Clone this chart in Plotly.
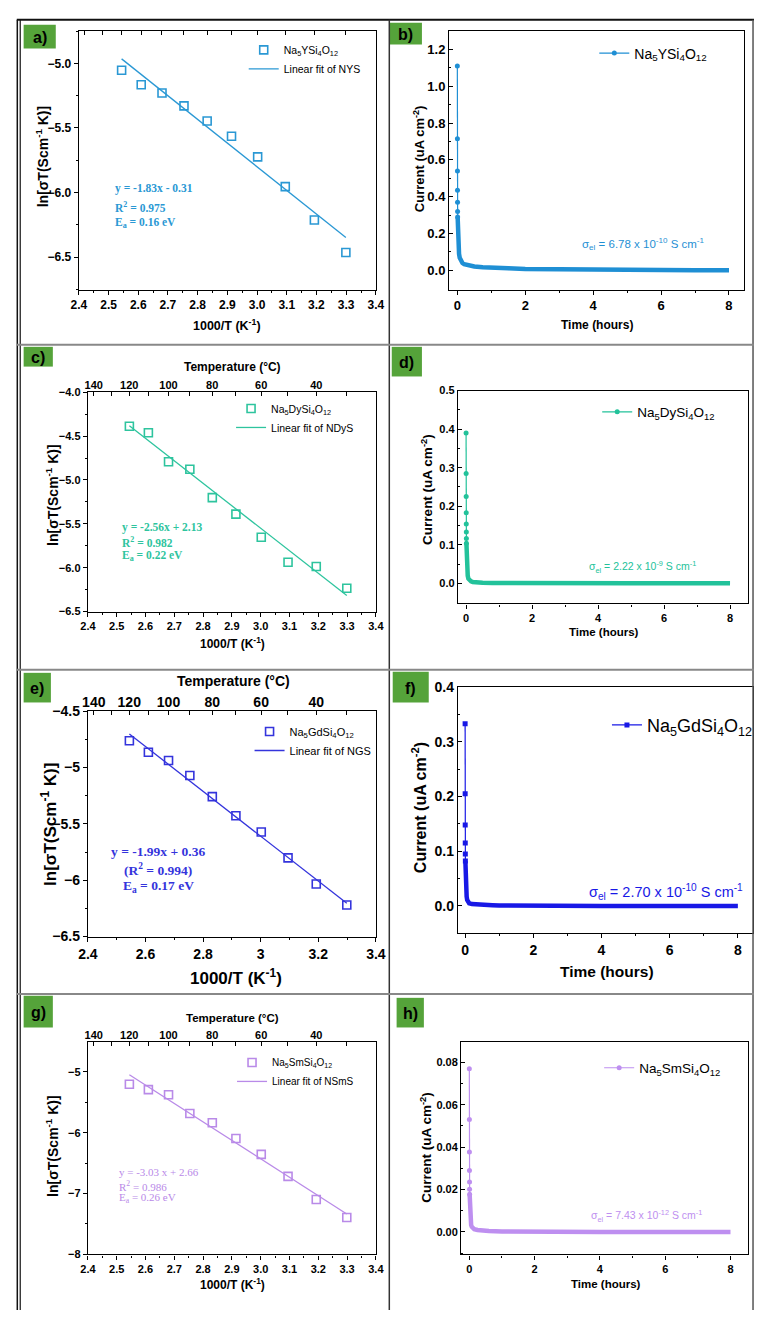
import plotly.graph_objects as go

W, H = 764, 1318
SANS = "Liberation Sans"
SERIF = "Liberation Serif"

# ---------------- data ----------------
inv_T = [2.544, 2.610, 2.680, 2.754, 2.832, 2.914, 3.002, 3.095, 3.193, 3.299]  # 1000/T (K^-1)
temp_C_major = [140, 120, 100, 80, 60, 40]
temp_C_minor = [130, 110, 90, 70, 50, 30]

ln_sT_NYS = [-5.054, -5.166, -5.230, -5.329, -5.446, -5.564, -5.724, -5.954, -6.212, -6.464]
ln_sT_NDyS = [-4.387, -4.462, -4.792, -4.878, -5.201, -5.389, -5.652, -5.937, -5.986, -6.234]
ln_sT_NGS = [-4.763, -4.865, -4.938, -5.072, -5.259, -5.428, -5.572, -5.802, -6.033, -6.220]
ln_sT_NSmS = [-5.205, -5.292, -5.378, -5.686, -5.838, -6.097, -6.357, -6.719, -7.097, -7.395]

fit_slope = [-1.83, -2.56, -1.99, -3.03]
fit_icpt = [-0.31, 2.13, 0.36, 2.66]

sample_names = ["Na<sub>5</sub>YSi<sub>4</sub>O<sub>12</sub>",
                "Na<sub>5</sub>DySi<sub>4</sub>O<sub>12</sub>",
                "Na<sub>5</sub>GdSi<sub>4</sub>O<sub>12</sub>",
                "Na<sub>5</sub>SmSi<sub>4</sub>O<sub>12</sub>"]
fit_names = ["Linear fit of NYS", "Linear fit of NDyS", "Linear fit of NGS", "Linear fit of NSmS"]

# chronoamperometry (time in hours, current in uA cm^-2)
NYS_spike_t = [0.0, 0.0015, 0.003, 0.0045, 0.006, 0.0075, 0.009]
NYS_spike_i = [1.11, 0.715, 0.54, 0.435, 0.37, 0.32, 0.29]
NYS_tail_t = [0.009, 0.012, 0.016, 0.02, 0.03, 0.04, 0.05, 0.07, 0.1, 0.15, 0.2, 0.3, 0.5, 0.75,
              1.0, 1.5, 2.0, 3.0, 4.0, 5.0, 6.0, 7.0, 8.0]
NYS_tail_i = [0.29, 0.25, 0.21, 0.18, 0.14, 0.11, 0.09, 0.068, 0.052, 0.04, 0.034, 0.028, 0.021, 0.017,
              0.014, 0.011, 0.008, 0.005, 0.003, 0.002, 0.0015, 0.001, 0.0005]

NDyS_spike_t = [0.0, 0.0015, 0.003, 0.0045, 0.006, 0.0075, 0.009, 0.0105]
NDyS_spike_i = [0.39, 0.285, 0.225, 0.183, 0.154, 0.133, 0.116, 0.104]
NDyS_tail_t = [0.0105, 0.014, 0.018, 0.025, 0.035, 0.05, 0.07, 0.1, 0.15, 0.2, 0.3, 0.5, 0.8, 1.2,
               2.0, 3.0, 4.0, 5.0, 6.0, 7.0, 8.0]
NDyS_tail_i = [0.104, 0.088, 0.07, 0.05, 0.032, 0.02, 0.012, 0.008, 0.005, 0.0035, 0.0025, 0.0015, 0.001,
               0.0007, 0.0004, 0.0003, 0.0002, 0.0001, 0.0001, 0.0, 0.0]

NGS_spike_t = [0.0, 0.0015, 0.003, 0.0045, 0.006, 0.0075]
NGS_spike_i = [0.333, 0.205, 0.148, 0.115, 0.095, 0.082]
NGS_tail_t = [0.0075, 0.01, 0.015, 0.02, 0.03, 0.045, 0.06, 0.08, 0.12, 0.2, 0.35, 0.5, 0.8, 1.0,
              1.5, 2.0, 3.0, 4.0, 5.0, 6.0, 7.0, 8.0]
NGS_tail_i = [0.082, 0.07, 0.055, 0.042, 0.028, 0.017, 0.011, 0.008, 0.005, 0.0035, 0.0025, 0.002, 0.0015,
              0.001, 0.0006, 0.0004, 0.0002, 0.0001, 0.0001, 0.0, 0.0, 0.0]

NSmS_spike_t = [0.0, 0.0015, 0.003, 0.0045, 0.006, 0.0075, 0.009]
NSmS_spike_i = [0.077, 0.053, 0.0377, 0.029, 0.0236, 0.0201, 0.0178]
NSmS_tail_t = [0.009, 0.012, 0.016, 0.02, 0.03, 0.04, 0.055, 0.075, 0.1, 0.15, 0.25, 0.4, 0.6, 1.0,
               1.5, 2.0, 3.0, 4.0, 5.0, 6.0, 7.0, 8.0]
NSmS_tail_i = [0.0178, 0.015, 0.012, 0.0095, 0.0065, 0.0045, 0.0032, 0.0024, 0.0018, 0.0013, 0.0009,
               0.0006, 0.0004, 0.0002, 0.0001, 0.0001, 0.0, 0.0, 0.0, 0.0, 0.0, 0.0]

sigma_el_text = ["σ<sub>el</sub> = 6.78 x 10<sup>-10</sup> S cm<sup>-1</sup>",
                 "σ<sub>el</sub> = 2.22 x 10<sup>-9</sup> S cm<sup>-1</sup>",
                 "σ<sub>el</sub> = 2.70 x 10<sup>-10</sup> S cm<sup>-1</sup>",
                 "σ<sub>el</sub> = 7.43 x 10<sup>-12</sup> S cm<sup>-1</sup>"]

arr_colors = ["#2A98D4", "#2EC49E", "#3434DC", "#B98AE8"]
ca_colors = ["#1F8FD4", "#22C29A", "#1818E6", "#BE8FF0"]

# ---------------- geometry (page pixels) ----------------
geom = {
    1: (70.7, 375.7, 23.3, 285.0),
    2: (451.0, 753.3, 23.3, 285.0),
    3: (80.0, 375.7, 389.0, 611.0),
    4: (460.0, 757.7, 387.3, 602.7),
    5: (80.0, 375.7, 711.7, 940.0),
    6: (460.0, 762.5, 687.3, 936.7),
    7: (80.0, 375.7, 1046.7, 1261.7),
    8: (463.3, 758.3, 1046.7, 1261.7),
}


def px(x):
    return x / W


def py(y):
    return 1 - y / H


def dom(i):
    l, r, t, b = geom[i]
    return [px(l), px(r)], [py(b), py(t)]


def axref(i):
    return ("x", "y") if i == 1 else (f"x{i}", f"y{i}")


def legref(i):
    return "legend" if i == 1 else f"legend{i}"


def axis_common(fs, ticks="outside"):
    return dict(showline=True, linecolor="black", linewidth=1.3, mirror=True,
                ticks=ticks, ticklen=4, tickwidth=1.2, tickcolor="black",
                showgrid=False, zeroline=False,
                tickfont=dict(family=SANS, size=fs, color="black", weight="bold"))


fig = go.Figure()
layout = dict(width=W, height=H, margin=dict(l=0, r=0, t=0, b=0),
              paper_bgcolor="white", plot_bgcolor="white", showlegend=True)

# ---------------- Arrhenius panels ----------------
arr_panels = [1, 3, 5, 7]
arr_data = [ln_sT_NYS, ln_sT_NDyS, ln_sT_NGS, ln_sT_NSmS]
arr_tickfs = [12, 11, 14, 11]
arr_yr = [[-6.75, -4.75], [-6.5, -4.0], [-6.5, -4.5], [-8.0, -4.51]]
arr_ydt = [0.5, 0.5, 0.5, 1.0]
arr_yt0 = [-5.0, -4.0, -4.5, -5.0]
arr_yfmt = [".1f", ".1f", "", ".0f"]
arr_xdt = [0.1, 0.1, 0.2, 0.1]
arr_xfmt = [".1f", ".1f", "", ".1f"]
top_axis_ids = [9, 10, 11, 12]
top_fs = [11, 11, 14, 11]

for k, i in enumerate(arr_panels):
    xr, yr = axref(i)
    c = arr_colors[k]
    fig.add_trace(go.Scatter(
        x=inv_T, y=arr_data[k], mode="markers", name=sample_names[k],
        marker=dict(symbol="square-open", size=8, color=c, line=dict(width=1.6, color=c)),
        xaxis=xr, yaxis=yr, legend=legref(i)))
    xs = [inv_T[0], inv_T[-1]]
    ys = [fit_slope[k] * v + fit_icpt[k] for v in xs]
    fig.add_trace(go.Scatter(
        x=xs, y=ys, mode="lines", name=fit_names[k],
        line=dict(color=c, width=1.3), xaxis=xr, yaxis=yr, legend=legref(i)))
    # invisible trace that carries the top temperature axis
    tid = top_axis_ids[k]
    fig.add_trace(go.Scatter(x=inv_T, y=arr_data[k], mode="markers", marker=dict(opacity=0),
                             showlegend=False, hoverinfo="skip", xaxis=f"x{tid}", yaxis=yr))

    xd, yd = dom(i)
    xa = axis_common(arr_tickfs[k])
    xa.update(domain=xd, anchor=yr, range=[2.4, 3.4], tick0=2.4, dtick=arr_xdt[k],
              tickformat=arr_xfmt[k],
              minor=dict(ticks="outside", ticklen=2, tickcolor="black", dtick=arr_xdt[k] / 2,
                         showgrid=False))
    ya = axis_common(arr_tickfs[k])
    ya.update(domain=yd, anchor=xr, range=arr_yr[k], tick0=arr_yt0[k], dtick=arr_ydt[k],
              tickformat=arr_yfmt[k],
              minor=dict(ticks="outside", ticklen=2, tickcolor="black", dtick=arr_ydt[k] / 2,
                         showgrid=False))
    layout["xaxis" if i == 1 else f"xaxis{i}"] = xa
    layout["yaxis" if i == 1 else f"yaxis{i}"] = ya

    top = dict(overlaying=xr, anchor=yr, side="top", range=[2.4, 3.4],
               tickmode="array", tickvals=[1000.0 / (t + 273.15) for t in temp_C_major],
               ticktext=[str(t) for t in temp_C_major],
               showticklabels=(i != 1),
               ticks="inside", ticklen=4, tickwidth=1.2, tickcolor="black",
               minor=dict(tickmode="array", tickvals=[1000.0 / (t + 273.15) for t in temp_C_minor],
                          ticks="inside", ticklen=4, tickcolor="black", showgrid=False),
               showline=False, showgrid=False, zeroline=False,
               tickfont=dict(family=SANS, size=top_fs[k], color="black", weight="bold"))
    layout[f"xaxis{tid}"] = top

# ---------------- chronoamperometry panels ----------------
ca_panels = [2, 4, 6, 8]
ca_spike = [(NYS_spike_t, NYS_spike_i), (NDyS_spike_t, NDyS_spike_i),
            (NGS_spike_t, NGS_spike_i), (NSmS_spike_t, NSmS_spike_i)]
ca_tail = [(NYS_tail_t, NYS_tail_i), (NDyS_tail_t, NDyS_tail_i),
           (NGS_tail_t, NGS_tail_i), (NSmS_tail_t, NSmS_tail_i)]
ca_tickfs = [13, 11, 14, 11]
ca_xr = [[-0.24, 8.43], [-0.246, 8.54], [-0.21, 8.43], [-0.25, 8.55]]
ca_yr = [[-0.104, 1.30], [-0.052, 0.5], [-0.05, 0.4], [-0.0106, 0.0896]]
ca_ydt = [0.2, 0.1, 0.1, 0.02]
ca_yfmt = [".1f", ".1f", ".1f", ".2f"]
ca_marker = ["circle", "circle", "square", "circle"]

for k, i in enumerate(ca_panels):
    xr, yr = axref(i)
    c = ca_colors[k]
    tt, ti = ca_tail[k]
    fig.add_trace(go.Scatter(x=tt, y=ti, mode="lines", line=dict(color=c, width=4.5),
                             showlegend=False, hoverinfo="skip", xaxis=xr, yaxis=yr))
    st, si = ca_spike[k]
    fig.add_trace(go.Scatter(x=st, y=si, mode="lines+markers", name=sample_names[k],
                             line=dict(color=c, width=1.2),
                             marker=dict(symbol=ca_marker[k], size=5, color=c),
                             xaxis=xr, yaxis=yr, legend=legref(i)))
    xd, yd = dom(i)
    xa = axis_common(ca_tickfs[k])
    xa.update(domain=xd, anchor=yr, range=ca_xr[k], tick0=0, dtick=2,
              minor=dict(ticks="outside", ticklen=2, tickcolor="black", dtick=1, showgrid=False))
    ya = axis_common(ca_tickfs[k], ticks="inside")
    ya.update(domain=yd, anchor=xr, range=ca_yr[k], tick0=0, dtick=ca_ydt[k], tickformat=ca_yfmt[k],
              minor=dict(ticks="inside", ticklen=2, tickcolor="black", dtick=ca_ydt[k] / 2,
                         showgrid=False))
    layout[f"xaxis{i}"] = xa
    layout[f"yaxis{i}"] = ya

# ---------------- legends ----------------
leg_pos = {1: (240, 52, 10.5), 2: (600, 46, 14), 3: (227, 415, 10.5), 4: (603, 409, 13.5),
           5: (246, 742, 11), 6: (613, 726, 18), 7: (228, 1077, 10), 8: (605, 1073, 13.5)}
for i, (lx, ly, fs) in leg_pos.items():
    layout[legref(i)] = dict(x=px(lx), y=py(ly), xanchor="left", yanchor="middle",
                             bgcolor="rgba(0,0,0,0)", borderwidth=0, itemwidth=30,
                             tracegroupgap=0,
                             font=dict(family=SANS, size=fs, color="black"))

fig.update_layout(**layout)

# ---------------- annotations ----------------
anns = []


def ann(text, x, y, size, color="black", family=SANS, bold=False, xanchor="center",
        yanchor="middle", angle=0):
    anns.append(dict(text=text, x=px(x), y=py(y), xref="paper", yref="paper",
                     showarrow=False, xanchor=xanchor, yanchor=yanchor, textangle=angle,
                     font=dict(family=family, size=size, color=color,
                               weight="bold" if bold else "normal")))


ylab_arr = "ln[σT(Scm<sup>-1</sup> K)]"
xlab_arr = "1000/T (K<sup>-1</sup>)"
ylab_ca = "Current (uA cm<sup>-2</sup>)"
xlab_ca = "Time (hours)"

# a
ann(ylab_arr, 33, 150, 14, bold=True, angle=-90)
ann(xlab_arr, 223, 321, 12.5, bold=True)
ann("y = -1.83x - 0.31", 106, 183, 11.5, arr_colors[0], SERIF, True, "left")
ann("R<sup>2</sup> = 0.975", 106, 201, 11.5, arr_colors[0], SERIF, True, "left")
ann("E<sub>a</sub> = 0.16 eV", 106, 218, 11.5, arr_colors[0], SERIF, True, "left")
# b
ann(ylab_ca, 420, 153, 13, bold=True, angle=-90)
ann(xlab_ca, 603, 321, 12, bold=True)
ann(sigma_el_text[0], 585, 239, 11.5, ca_colors[0], SANS, False, "left")
# c
ann("Temperature (°C)", 228, 363, 12, bold=True)
ann(ylab_arr, 43, 493, 14, bold=True, angle=-90)
ann(xlab_arr, 228, 643, 12, bold=True)
ann("y = -2.56x + 2.13", 113, 526, 11.5, arr_colors[1], SERIF, True, "left")
ann("R<sup>2</sup> = 0.982", 113, 541, 11.5, arr_colors[1], SERIF, True, "left")
ann("E<sub>a</sub> = 0.22 eV", 113, 555, 11.5, arr_colors[1], SERIF, True, "left")
# d
ann(ylab_ca, 428, 487, 13.5, bold=True, angle=-90)
ann(xlab_ca, 610, 632, 11.5, bold=True)
ann(sigma_el_text[1], 593, 566, 10.5, ca_colors[1], SANS, False, "left")
# e
ann("Temperature (°C)", 229, 681, 14, bold=True)
ann(ylab_arr, 40, 826, 17, bold=True, angle=-90)
ann(xlab_arr, 232, 981, 17, bold=True)
ann("y = -1.99x + 0.36", 152, 854, 13.5, arr_colors[2], SERIF, True)
ann("(R<sup>2</sup> = 0.994)", 152, 872, 13.5, arr_colors[2], SERIF, True)
ann("E<sub>a</sub> = 0.17 eV", 152, 889, 13.5, arr_colors[2], SERIF, True)
# f
ann(ylab_ca, 420, 810, 16, bold=True, angle=-90)
ann(xlab_ca, 613, 975, 15.5, bold=True)
ann(sigma_el_text[2], 593, 895, 14.5, ca_colors[2], SANS, False, "left")
# g
ann("Temperature (°C)", 228, 1022, 11.5, bold=True)
ann(ylab_arr, 43, 1152, 14, bold=True, angle=-90)
ann(xlab_arr, 228, 1292, 12, bold=True)
ann("y = -3.03 x + 2.66", 110, 1178, 11, arr_colors[3], SERIF, False, "left")
ann("R<sup>2</sup> = 0.986", 110, 1192, 11, arr_colors[3], SERIF, False, "left")
ann("E<sub>a</sub> = 0.26 eV", 110, 1205, 11, arr_colors[3], SERIF, False, "left")
# h
ann(ylab_ca, 427, 1153, 13.5, bold=True, angle=-90)
ann(xlab_ca, 612, 1292, 11.5, bold=True)
ann(sigma_el_text[3], 595, 1223, 10.5, ca_colors[3], SANS, False, "left")

# panel labels (green boxes)
shapes = []
label_boxes = {"a)": (14, 47, 17, 41), "b)": (390, 423, 15, 37), "c)": (14, 44, 343, 363),
               "d)": (392, 423, 343, 373), "e)": (14, 42, 673, 703), "f)": (393, 430, 672, 703),
               "g)": (14, 44, 1000, 1032), "h)": (397, 425, 1002, 1032)}
for lab, (x0, x1, y0, y1) in label_boxes.items():
    shapes.append(dict(type="rect", xref="paper", yref="paper", x0=px(x0), x1=px(x1),
                       y0=py(y1), y1=py(y0), fillcolor="#55A33A", line=dict(width=0)))
    ann(lab, (x0 + x1) / 2, (y0 + y1) / 2 + 1, 16, "black", SANS, True)


def hline(y, x0, x1, color, w):
    shapes.append(dict(type="line", xref="paper", yref="paper", x0=px(x0), x1=px(x1),
                       y0=py(y), y1=py(y), line=dict(color=color, width=w)))


def vline(x, y0, y1, color, w):
    shapes.append(dict(type="line", xref="paper", yref="paper", x0=px(x), x1=px(x),
                       y0=py(y0), y1=py(y1), line=dict(color=color, width=w)))


hline(12, 7, 764, "#111111", 2)
vline(7.5, 12, 1318, "#111111", 1.5)
vline(10.5, 12, 1318, "#111111", 1.2)
vline(389.5, 12, 1318, "#333333", 1.5)
vline(763, 12, 1318, "#555555", 1.5)
for yy in (341, 670, 998):
    hline(yy, 7, 764, "#888888", 2)

fig.update_layout(annotations=anns, shapes=shapes)

fig.write_html("out.html", include_plotlyjs=True, full_html=True,
               config={"displayModeBar": False},
               post_script="document.body.style.margin='0px';document.body.style.overflow='hidden';")
